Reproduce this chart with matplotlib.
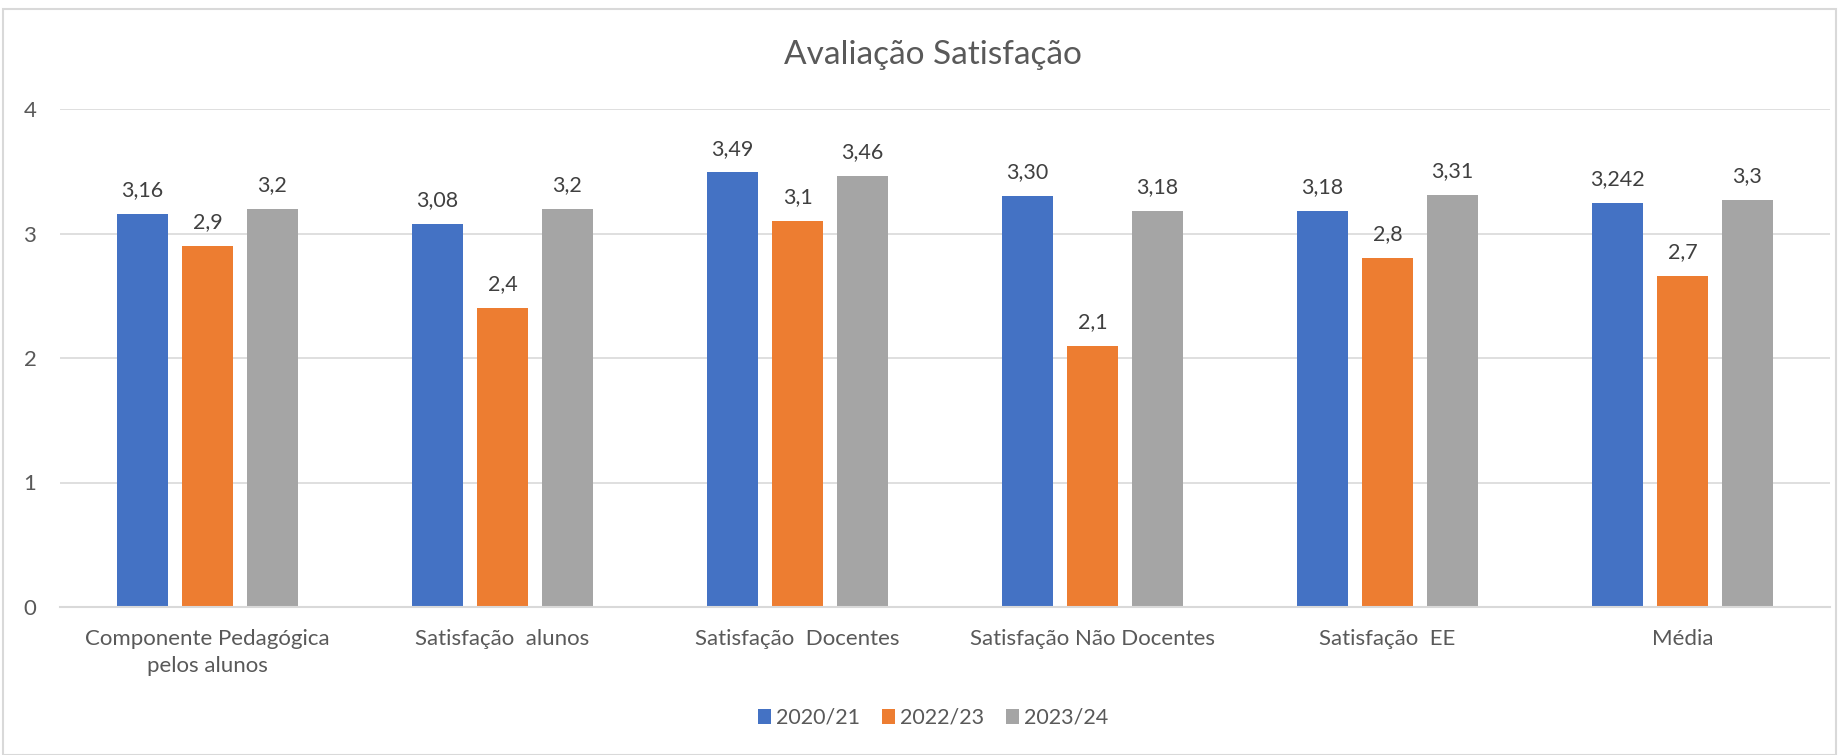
import matplotlib
matplotlib.use("Agg")
import matplotlib.pyplot as plt
import numpy as np
from matplotlib.patches import Rectangle

categories = ["Componente Pedagógica\npelos alunos", "Satisfação  alunos", "Satisfação  Docentes",
              "Satisfação Não Docentes", "Satisfação  EE", "Média"]
series_names = ["2020/21", "2022/23", "2023/24"]
v2020 = [3.16, 3.08, 3.49, 3.30, 3.18, 3.242]
v2022 = [2.9, 2.4, 3.1, 2.1, 2.8, 2.66]
v2023 = [3.2, 3.2, 3.46, 3.18, 3.31, 3.27]
lab2020 = ["3,16", "3,08", "3,49", "3,30", "3,18", "3,242"]
lab2022 = ["2,9", "2,4", "3,1", "2,1", "2,8", "2,7"]
lab2023 = ["3,2", "3,2", "3,46", "3,18", "3,31", "3,3"]
yticks = [0, 1, 2, 3, 4]
title = "Avaliação Satisfação"

colors = ["#4472C4", "#ED7D31", "#A5A5A5"]
plt.rcParams['font.family'] = ['Lato', 'DejaVu Sans']

W, H = 1840, 755
fig = plt.figure(figsize=(W / 100, H / 100), dpi=100)
ax = fig.add_axes([60 / W, (H - 607) / H, (1830 - 60) / W, (607 - 109) / H])

x = np.arange(len(categories))
bw = 0.175
step = 0.22
for i, (vals, labs, name) in enumerate(zip([v2020, v2022, v2023], [lab2020, lab2022, lab2023], series_names)):
    pos = x + (i - 1) * step
    bars = ax.bar(pos, vals, width=bw, color=colors[i], label=name, zorder=3)
    for b, lab in zip(bars, labs):
        ax.annotate(lab, (b.get_x() + b.get_width() / 2, b.get_height()),
                    xytext=(0, 10), textcoords="offset points", ha="center", va="bottom",
                    fontsize=15.5, color="#404040")

ax.set_xlim(-0.5, len(categories) - 0.5)
ax.set_ylim(0, 4)
ax.set_yticks(yticks)
ax.set_yticklabels([str(t) for t in yticks])
ax.set_xticks(x)
ax.set_xticklabels(categories, fontsize=16, color="#595959", linespacing=1.4)
ax.tick_params(axis="y", labelsize=16, labelcolor="#595959", length=0, pad=17)
ax.tick_params(axis="x", length=0, pad=16)
ax.grid(axis="y", color="#D9D9D9", linewidth=1.2, zorder=0)
for s in ["top", "right", "left"]:
    ax.spines[s].set_visible(False)
ax.spines["bottom"].set_color("#D9D9D9")
ax.spines["bottom"].set_linewidth(1.5)
ax.spines["bottom"].set_zorder(4)

fig.text(933 / W, 1 - 55 / H, title, ha="center", va="center", fontsize=24, color="#595959")

leg = fig.legend(loc="center", bbox_to_anchor=(933 / W, 1 - 718 / H), ncol=3, frameon=False,
                 fontsize=15.5, handlelength=0.6, handleheight=0.7, handletextpad=0.25, columnspacing=1.0)
for t in leg.get_texts():
    t.set_color("#595959")

fig.patches.append(Rectangle((3 / W, 0), (1836 - 3) / W, (H - 9) / H, transform=fig.transFigure,
                             fill=False, edgecolor="#D9D9D9", linewidth=1.5))

fig.savefig("out.png", dpi=100)
